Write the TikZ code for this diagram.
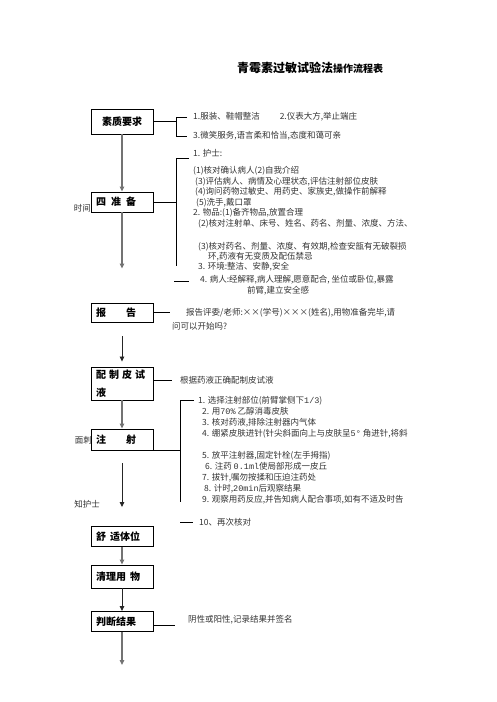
\documentclass[tikz,border=0pt]{standalone}
\usepackage{fontspec}
\setmainfont{Noto Sans CJK SC}
\setmonofont{Liberation Mono}
\usetikzlibrary{arrows.meta,positioning}
\begin{document}
\begin{tikzpicture}[x=1pt,y=-1pt,
  stage/.style={draw, line width=0.9pt, minimum width=62pt, minimum height=20pt,
    inner xsep=5pt, inner ysep=2pt, text width=52pt, align=left,
    font=\fontsize{10}{14}\selectfont\bfseries},
  note/.style={anchor=west, inner sep=0pt, align=left, text=black!80,
    font=\fontsize{8.5}{10.5}\selectfont},
  arr/.style={-{Triangle[length=5pt,width=4.5pt]}, line width=1.3pt, black!55},
  arrk/.style={-{Triangle[length=5pt,width=4.5pt]}, line width=0.8pt, black!85},
  brk/.style={line width=0.7pt}]
\useasboundingbox (0,0) rectangle (496,702);

% title
\node[anchor=west, inner sep=0pt, font=\bfseries] (title) at (237,68)
  {{\fontsize{12}{14}\selectfont 青霉素过敏试验法}{\fontsize{10}{12}\selectfont 操作流程表}};

% main steps
\node[stage, align=center, minimum height=25pt] (req) at (122,121.5) {素质要求};
\node[stage] (prep) at (122,202) {四\hspace{5pt}准\hspace{5pt}备};
\node[stage, minimum height=19pt] (rep) at (122,312.5) {报\hspace{20pt}告};
\node[stage, minimum height=33pt, font=\fontsize{10}{18}\selectfont\bfseries] (mix) at (122,383.5)
  {配\hspace{3pt}制\hspace{3pt}皮\hspace{3pt}试\\液};
\node[stage, minimum height=21pt] (inj) at (122,439.5) {注\hspace{20pt}射};
\node[stage] (cmf) at (122,536.5) {舒\hspace{4pt}适体位};
\node[stage, minimum height=23pt] (cln) at (122,576.5) {清理用\hspace{4pt}物};
\node[stage] (jdg) at (122,621.5) {判断结果};
\coordinate (fin) at (122,665);

\draw[arr] (req) -- (prep);
\draw[arr, shorten >=34pt] (prep) -- (rep);
\draw[arrk, shorten <=14pt, shorten >=5pt] (rep) -- (mix);
\draw[arr] (mix) -- (inj);
\draw[arrk, shorten <=13pt, shorten >=19pt] (inj) -- (cmf);
\draw[arr] (cmf) -- (cln);
\draw[arrk] (cln) -- (jdg);
\draw[arr] (jdg) -- (fin);

% brackets
\coordinate (rq t) at (176,117);
\coordinate (rq b) at (176,136);
\draw[brk] (req.east) -- (req.east -| rq t);
\draw[brk] ([xshift=11pt]rq t) -- (rq t) -- (rq b) -- ([xshift=11pt]rq b);

\coordinate (pp t) at (176,158);
\coordinate (pp b) at (176,266);
\coordinate (pp x) at (174,281);
\draw[brk] (prep.east) -- (prep.east -| pp t);
\draw[brk] ([xshift=13pt]pp t) -- (pp t) -- (pp b);
\draw[brk] (pp x) -- ([xshift=15pt]pp x);

\coordinate (rp e) at (170,312.5);
\draw[brk] (rep.east) -- (rp e);

\coordinate (mx e) at (172,380);
\draw[brk] (mix.east |- mx e) -- (mx e);

\coordinate (ij t) at (180,400);
\coordinate (ij b) at (180,502);
\coordinate (ij e) at (180,450);
\coordinate (ij x) at (180,522);
\draw[brk] (inj.east |- ij e) -- (ij e);
\draw[brk] ([xshift=14pt]ij t) -- (ij t) -- (ij b);
\draw[brk] (ij x) -- ([xshift=13pt]ij x);

\coordinate (jd e) at (175,625);
\draw[brk] (jdg.east |- jd e) -- (jd e);

% notes
\node[note] (rq a) at (193,117) {1.服装、鞋帽整洁\hspace{20pt}2.仪表大方,举止端庄};
\node[note] (rq c) at (193,136) {3.微笑服务,语言柔和恰当,态度和蔼可亲};

\node[note] (pp a) at (193,153) {1. 护士:};
\node[note, anchor=north west] (pp c) at (193,166.5) {(1)核对确认病人(2)自我介绍\\
  \hspace*{2pt}(3)评估病人、病情及心理状态,评估注射部位皮肤\\
  \hspace*{2pt}(4)询问药物过敏史、用药史、家族史,做操作前解释\\
  \hspace*{3pt}(5)洗手,戴口罩\\
  2. 物品:(1)备齐物品,放置合理\\
  \hspace*{5pt}(2)核对注射单、床号、姓名、药名、剂量、浓度、方法、};
\node[note, anchor=north west, font=\fontsize{8.5}{9.8}\selectfont] (pp d) at (198,242.5)
  {(3)核对药名、剂量、浓度、有效期,检查安瓿有无破裂损\\
  \hspace*{10pt}环,药液有无变质及配伍禁忌\\
  3. 环境:整洁、安静,安全};
\node[note] (pp e) at (200,280) {4. 病人:经解释,病人理解,愿意配合, 坐位或卧位,暴露};
\node[note] (pp f) at (247,291) {前臂,建立安全感};

\node[note] (rp a) at (186,313) {报告评委/老师:××(学号)×××(姓名),用物准备完毕,请};
\node[note] (rp b) at (172,326) {问可以开始吗?};

\node[note] (mx a) at (180,380) {根据药液正确配制皮试液};

\node[note, anchor=north west, font=\fontsize{8.5}{11}\selectfont] (ij a) at (198,396.5)
  {1. 选择注射部位(前臂掌侧下\texttt{1/3})\\
  \hspace*{4pt}2. 用\texttt{70\%} 乙醇消毒皮肤\\
  \hspace*{4pt}3. 核对药液,排除注射器内气体\\
  \hspace*{4pt}4. 绷紧皮肤进针(针尖斜面向上与皮肤呈\texttt{5°} 角进针,将斜\\[11pt]
  \hspace*{4pt}5. 放平注射器,固定针栓(左手拇指)\\
  \hspace*{7pt}6. 注药 \texttt{0.1ml}使局部形成一皮丘\\
  \hspace*{4pt}7. 拔针,嘱勿按揉和压迫注药处\\
  \hspace*{6pt}8. 计时,\texttt{20min}后观察结果\\
  \hspace*{4pt}9. 观察用药反应,并告知病人配合事项,如有不适及时告};
\node[note] (ij c) at (199,522) {10、再次核对};

\node[note] (jd a) at (188,620) {阴性或阳性,记录结果并签名};

% stray labels on the left
\node[note, anchor=east] (lb a) at (91,208) {时间};
\node[note, anchor=east] (lb b) at (92,440) {面刺};
\node[note, anchor=east] (lb c) at (100,504) {知护士};
\end{tikzpicture}
\end{document}
